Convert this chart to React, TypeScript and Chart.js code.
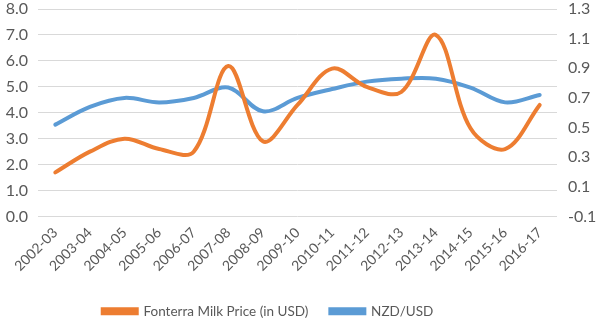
import React, { useEffect, useRef } from "react";
import { Chart, registerables } from "chart.js";

Chart.register(...registerables);

const categories = [
  "2002-03", "2003-04", "2004-05", "2005-06", "2006-07", "2007-08", "2008-09",
  "2009-10", "2010-11", "2011-12", "2012-13", "2013-14", "2014-15", "2015-16", "2016-17",
];
const milkPrice = [1.7, 2.5, 3.0, 2.6, 2.5, 5.8, 2.9, 4.3, 5.7, 5.0, 4.8, 7.0, 3.4, 2.6, 4.3];
const nzdUsd = [0.52, 0.64, 0.7, 0.67, 0.7, 0.77, 0.61, 0.7, 0.76, 0.81, 0.83, 0.83, 0.77, 0.67, 0.72];
const leftTicks = [0, 1, 2, 3, 4, 5, 6, 7, 8];
const rightTicks = [-0.1, 0.1, 0.3, 0.5, 0.7, 0.9, 1.1, 1.3];

const ORANGE = "#ED7D31";
const BLUE = "#5B9BD5";
const TEXT = "#595959";
const FONT = "Lato, 'Open Sans', sans-serif";

const legendShift = {
  id: "legendShift",
  afterLayout(chart: any) {
    if (chart.legend) {
      chart.legend.left -= 32;
      chart.legend.right -= 32;
    }
  },
};

export default function App() {
  const ref = useRef<HTMLCanvasElement>(null);
  useEffect(() => {
    if (!ref.current) return;
    const chart = new Chart(ref.current, {
      type: "line",
      plugins: [legendShift],
      data: {
        labels: categories,
        datasets: [
          {
            label: "Fonterra Milk Price (in USD)",
            data: milkPrice,
            borderColor: ORANGE,
            backgroundColor: ORANGE,
            borderWidth: 4,
            tension: 0.35,
            pointRadius: 0,
            yAxisID: "y",
            borderCapStyle: "round",
          },
          {
            label: "NZD/USD",
            data: nzdUsd,
            borderColor: BLUE,
            backgroundColor: BLUE,
            borderWidth: 4,
            tension: 0.35,
            pointRadius: 0,
            yAxisID: "y1",
            borderCapStyle: "round",
          },
        ],
      },
      options: {
        animation: false,
        responsive: false,
        maintainAspectRatio: false,
        layout: { padding: { top: 0, left: 0, right: 0, bottom: 0 } },
        plugins: {
          legend: {
            position: "bottom",
            labels: {
              boxWidth: 34,
              boxHeight: 4,
              padding: 22,
              color: TEXT,
              font: { family: FONT, size: 13.5 },
            },
          },
          tooltip: { enabled: false },
        },
        scales: {
          x: {
            offset: true,
            grid: { display: false },
            border: { display: false },
            ticks: {
              minRotation: 45,
              maxRotation: 45,
              color: TEXT,
              font: { family: FONT, size: 14 },
              padding: 0,
            },
            afterFit: (s: any) => { s.height = 66; },
          },
          y: {
            position: "left",
            min: 0,
            max: 8,
            afterBuildTicks: (s: any) => { s.ticks = leftTicks.map((v) => ({ value: v })); },
            grid: { color: "#d9d9d9", lineWidth: 1, drawTicks: false },
            border: { display: false },
            ticks: {
              color: TEXT,
              font: { family: FONT, size: 16 },
              padding: 10,
              callback: (v: any) => Number(v).toFixed(1),
            },
            afterFit: (s: any) => { s.width = 38; s.paddingTop = 9; s.paddingBottom = 0; },
          },
          y1: {
            position: "right",
            min: -0.1,
            max: 1.3,
            afterBuildTicks: (s: any) => { s.ticks = rightTicks.map((v) => ({ value: v })); },
            grid: { drawOnChartArea: false, drawTicks: false },
            border: { display: false },
            ticks: {
              color: TEXT,
              font: { family: FONT, size: 16 },
              padding: 11,
              callback: (v: any) => Number(v).toFixed(1),
            },
            afterFit: (s: any) => { s.width = 43; s.paddingTop = 9; s.paddingBottom = 0; },
          },
        },
      },
    });
    return () => chart.destroy();
  }, []);
  return (
    <div style={{ position: "fixed", left: 0, top: 0, width: 600, height: 328, background: "#fff" }}>
      <canvas ref={ref} width={600} height={328} style={{ width: 600, height: 328 }} />
    </div>
  );
}
